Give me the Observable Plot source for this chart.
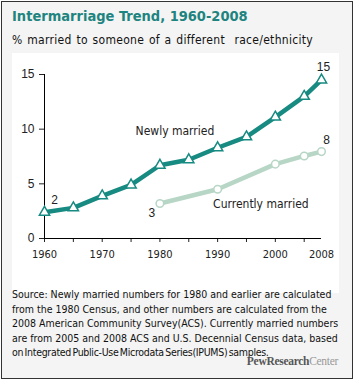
<!DOCTYPE html>
<html><head><meta charset="utf-8">
<script src="https://cdn.jsdelivr.net/npm/d3@7"></script>
<script src="https://cdn.jsdelivr.net/npm/@observablehq/plot@0.6"></script>
<style>
html,body{margin:0;padding:0;background:#fff;}
#frame{position:absolute;left:1px;top:1px;width:352px;height:378px;border:1px solid #333;background:#f4f4f4;box-sizing:border-box;}
#title{position:absolute;left:10px;top:6px;font:bold 14.5px "DejaVu Sans Condensed","DejaVu Sans",sans-serif;color:#1e847f;white-space:nowrap;}
#subtitle{position:absolute;left:10px;top:31px;font:12px "DejaVu Sans Condensed","DejaVu Sans",sans-serif;color:#111;white-space:nowrap;letter-spacing:0.3px;word-spacing:1px;}
#chart{position:absolute;left:10px;top:51px;width:327px;height:240px;background:#fff;}
#source{position:absolute;left:10px;top:285px;font:10.5px "DejaVu Sans Condensed","DejaVu Sans",sans-serif;line-height:14.6px;color:#111;white-space:nowrap;}
#source .tight{letter-spacing:-0.3px;word-spacing:-1.3px;}
#pew{position:absolute;right:14px;top:353px;font:bold 11.5px "Liberation Serif",serif;color:#555;letter-spacing:-0.3px;}
#pew span{font-weight:normal;color:#999;}
</style></head>
<body>
<div id="frame">
<div id="title">Intermarriage Trend, 1960-2008</div>
<div id="subtitle">% married to someone of a different &nbsp;race/ethnicity</div>
<div id="chart"></div>
<div id="source">Source: Newly married numbers for 1980 and earlier are calculated<br>from the 1980 Census, and other numbers are calculated from the<br>2008 American Community Survey(ACS). Currently married numbers<br>are from 2005 and 2008 ACS and U.S. Decennial Census data, based<br><span class="tight">on Integrated Public-Use Microdata Series(IPUMS) samples.</span></div>
<div id="pew">PewResearch<span>Center</span></div>
</div>
<script>
const newlyYears = [1960,1965,1970,1975,1980,1985,1990,1995,2000,2005,2008];
const newlyValues = [2.4,2.8,3.9,4.9,6.7,7.2,8.3,9.3,11.1,13.0,14.5];
const currentYears = [1980,1990,2000,2005,2008];
const currentValues = [3.2,4.5,6.8,7.55,7.95];
const xTickMarks = [1960,1965,1970,1975,1980,1985,1990,1995,2000,2005];
const xTickLabels = [1960,1970,1980,1990,2000,2008];
const yTicks = [0,5,10,15];
const seriesNames = ["Newly married","Currently married"];
const seriesLabelPos = [{x:1982.6,y:9.8},{x:1997.5,y:3.15}];

const newly = newlyYears.map((year,i)=>({year,value:newlyValues[i]}));
const current = currentYears.map((year,i)=>({year,value:currentValues[i]}));
const teal = "#178a81", sage = "#b7d6c6";
const lab = d => [{...d, label:String(Math.round(d.value))}];
const endText = (d,dx,dy) => Plot.text(lab(d),{x:"year",y:"value",text:"label",dx,dy,fontSize:12});

const chart = Plot.plot({
  width:327, height:240,
  marginLeft:32, marginRight:18, marginTop:21, marginBottom:55,
  style:{background:"#fff", fontFamily:"'Liberation Sans',Arial,sans-serif", fontSize:"12px", color:"#222"},
  x:{domain:[1960,2008]},
  y:{domain:[0,15]},
  marks:[
    Plot.axisY({ticks:yTicks, tickSize:5, tickPadding:5, label:null, fontSize:12}),
    Plot.axisX({ticks:xTickMarks, tickSize:4, tickFormat:()=>"", label:null}),
    Plot.axisX({ticks:xTickLabels, tickSize:0, tickPadding:12, tickFormat:d=>String(d), label:null, fontSize:11, fontFamily:"'DejaVu Sans Condensed',sans-serif"}),
    Plot.ruleY([0],{x1:1960,x2:2008,stroke:"#000"}),
    Plot.ruleX([1960],{y1:0,y2:15,stroke:"#000"}),
    Plot.line(current,{x:"year",y:"value",stroke:sage,strokeWidth:4.5}),
    Plot.dot(current,{x:"year",y:"value",r:3.8,fill:"#fff",stroke:sage,strokeWidth:1.5}),
    Plot.line(newly,{x:"year",y:"value",stroke:teal,strokeWidth:4.5}),
    Plot.dot(newly,{x:"year",y:"value",symbol:"triangle",r:3.8,fill:"#fff",stroke:teal,strokeWidth:1.5}),
    endText(newly[0],10,-12),
    endText(newly[newly.length-1],2,-13),
    endText(current[0],-8,10),
    endText(current[current.length-1],5,-11),
    Plot.text(seriesNames.map((name,i)=>({name,...seriesLabelPos[i]})),{x:"x",y:"y",text:"name",fontSize:12,fontFamily:"'DejaVu Sans Condensed',sans-serif"})
  ]
});
document.getElementById("chart").appendChild(chart);
</script>
</body></html>
